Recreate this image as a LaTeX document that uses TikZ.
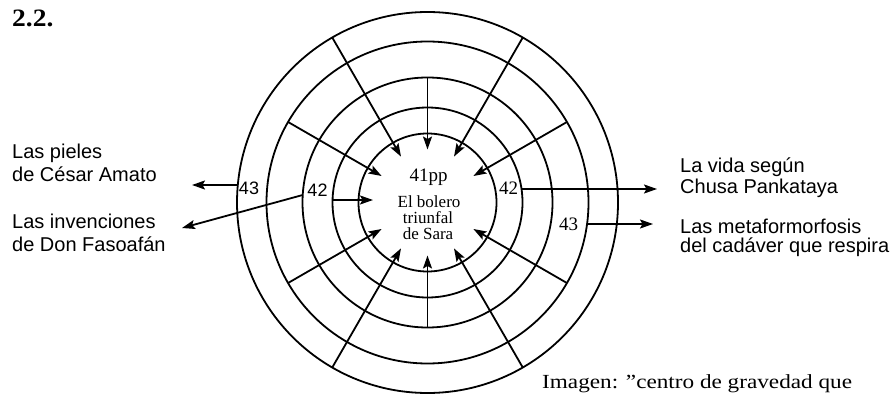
\documentclass[tikz,border=0pt]{standalone}
\usepackage{fontspec}
\usepackage{graphicx}
\setmainfont{Liberation Serif}
\setsansfont{Liberation Sans}
\usetikzlibrary{arrows.meta,calc}
\begin{document}
\begin{tikzpicture}[x=1pt,y=1pt,
  ring/.style={line width=1.8pt},
  arr/.style={line width=1.8pt,-{Stealth[length=13pt,width=9pt,inset=2.5pt]}},
  sidetext/.style={inner sep=0pt,anchor=base west,font=\sffamily\fontsize{20}{24}\selectfont},
  midtext/.style={inner sep=0pt,anchor=base,font=\rmfamily\fontsize{17}{20}\selectfont},
  numr/.style={inner sep=0pt,font=\rmfamily\fontsize{19}{20}\selectfont},
  nums/.style={inner sep=0pt,font=\sffamily\fontsize{18}{20}\selectfont},
]
\useasboundingbox (0,0) rectangle (890,394);
\coordinate (C) at (427.5,191.5);
% rings
\foreach \r in {69,95,125,161,190.5} \draw[ring] (C) circle[radius=\r];
% spokes
\foreach \a/\r in {30/161,60/190.5,90/125,120/190.5,150/161,210/161,240/190.5,270/125,300/190.5,330/161} {
  \coordinate (s\a) at ($(C)+(\a:\r)$);
  \coordinate (e\a) at ($(C)+(\a:53)$);
  \draw[arr] (s\a) -- (e\a);
}
% labels
\node[nums] (l43) at (249,205.5) {43};
\node[nums] (l42) at (317.5,204) {42};
\node[numr] (r42) at (508.5,205.5) {42};
\node[numr] (r43) at (568.5,170) {43};
% side arrows
\coordinate (l43s) at (237.8,209);
\coordinate (l43e) at (192,209);
\draw[arr] (l43s) -- (l43e);
\coordinate (l42s) at (332.5,194);
\coordinate (l42e) at (373,194);
\draw[arr] (l42s) -- (l42e);
\coordinate (invs) at (302.7,199);
\coordinate (inve) at (182,166);
\draw[arr] (invs) -- (inve);
\coordinate (r42s) at (521.5,205);
\coordinate (r42e) at (657,205);
\draw[arr] (r42s) -- (r42e);
\coordinate (r43s) at (587,170);
\coordinate (r43e) at (653,170);
\draw[arr] (r43s) -- (r43e);
% center text
\node[midtext,font=\rmfamily\fontsize{19}{20}\selectfont] (c1) at (428.5,212) {41pp};
\node[midtext] (c2) at (429,186.5) {El bolero};
\node[midtext] (c3) at (428,171) {triunfal};
\node[midtext] (c4) at (428,155) {de Sara};
% side texts
\node[sidetext] (p1) at (12,235) {Las pieles};
\node[sidetext] (p2) at (12,212) {de César Amato};
\node[sidetext] (i1) at (12,166) {Las invenciones};
\node[sidetext] (i2) at (12,143) {de Don Fasoafán};
\node[sidetext] (v1) at (680,222) {La vida según};
\node[sidetext] (v2) at (680,201) {Chusa Pankataya};
\node[sidetext] (m1) at (680,161) {Las metaformorfosis};
\node[sidetext] (m2) at (680,142) {del cadáver que respira};
% title and caption
\node[inner sep=0pt,anchor=base west,font=\rmfamily\bfseries\fontsize{25}{26}\selectfont] (title) at (12,367) {\scalebox{1.1}[1]{2.2.}};
\node[inner sep=0pt,anchor=base west,font=\rmfamily\fontsize{20}{22}\selectfont] (cap) at (542,6) {\scalebox{1.16}[1]{Imagen: ”centro de gravedad que}};
\end{tikzpicture}
\end{document}
